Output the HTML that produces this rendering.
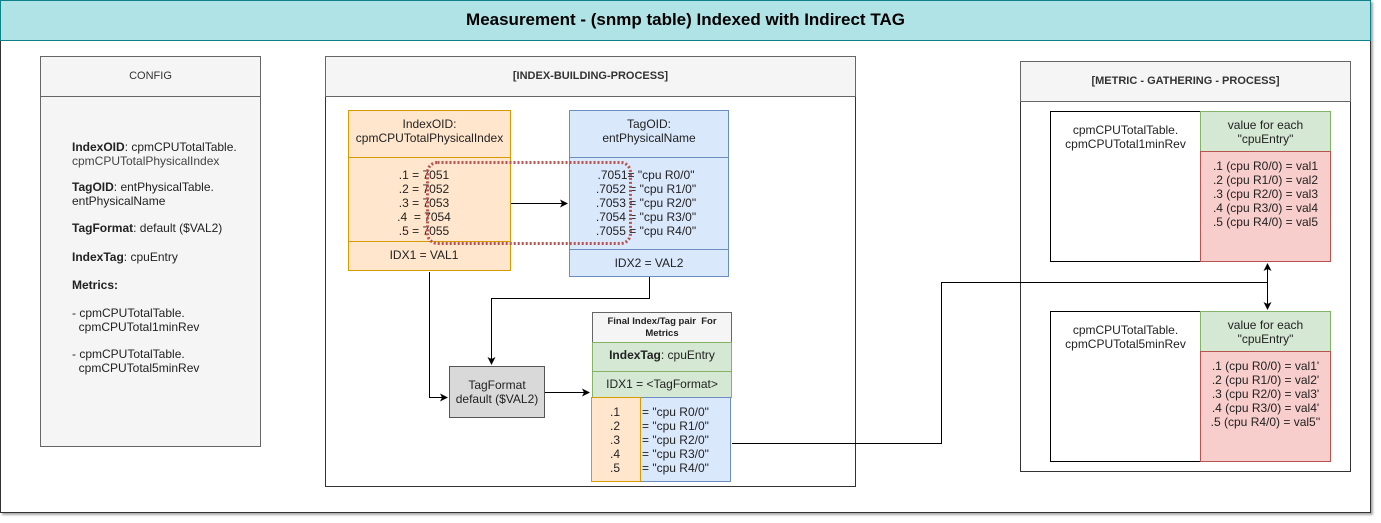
<!DOCTYPE html>
<html><head><meta charset="utf-8"><style>
body{margin:0;width:1381px;height:523px;background:#fff;font-family:"Liberation Sans",sans-serif;font-size:12px;color:#222;position:relative;overflow:hidden}
.b{position:absolute;box-sizing:border-box}
.t{position:absolute;white-space:nowrap;line-height:14px}
.c{text-align:center}
</style></head><body>
<div class="b" style="left:0;top:0;width:1371px;height:513px;border:1px solid #333;box-shadow:2px 2px 2px #aaa"></div>
<div class="b" style="left:0;top:0;width:1371px;height:41px;background:#b0e3e6;border:1px solid #0e8088"></div>
<div class="t c" style="left:0;top:10px;width:1371px;font-size:17px;font-weight:bold;line-height:19px;color:#000">Measurement - (snmp table) Indexed with Indirect TAG</div>

<!-- CONFIG -->
<div class="b" style="left:40px;top:56px;width:221px;height:391px;background:#f5f5f5;border:1px solid #666"></div>
<div class="b" style="left:40px;top:56px;width:221px;height:41px;border:1px solid #666"></div>
<div class="t c" style="left:40px;top:69px;width:221px;color:#333;font-size:11px">CONFIG</div>
<div class="t" style="left:72px;top:140px"><b>IndexOID</b>: cpmCPUTotalTable.<br><span style="color:#444">cpmCPUTotalPhysicalIndex</span></div>
<div class="t" style="left:72px;top:180px"><b>TagOID</b>: entPhysicalTable.<br>entPhysicalName</div>
<div class="t" style="left:72px;top:221px"><b>TagFormat</b>: default ($VAL2)</div>
<div class="t" style="left:72px;top:250px"><b>IndexTag</b>: cpuEntry</div>
<div class="t" style="left:72px;top:278px"><b>Metrics:</b></div>
<div class="t" style="left:72px;top:306px">- cpmCPUTotalTable.<br>&nbsp;&nbsp;cpmCPUTotal1minRev</div>
<div class="t" style="left:72px;top:347px">- cpmCPUTotalTable.<br>&nbsp;&nbsp;cpmCPUTotal5minRev</div>

<!-- INDEX BUILDING -->
<div class="b" style="left:325px;top:56px;width:531px;height:431px;border:1px solid #333"></div>
<div class="b" style="left:325px;top:56px;width:531px;height:41px;background:#f5f5f5;border:1px solid #666"></div>
<div class="t c" style="left:325px;top:69px;width:531px;font-weight:bold;color:#333;font-size:11px">[INDEX-BUILDING-PROCESS]</div>

<div class="b" style="left:348px;top:110px;width:163px;height:161px;background:#ffe6cc;border:1px solid #d79b00"></div>
<div class="b" style="left:348px;top:110px;width:163px;height:48px;border:1px solid #d79b00"></div>
<div class="b" style="left:348px;top:241px;width:163px;height:30px;border:1px solid #d79b00"></div>
<div class="t c" style="left:348px;top:117px;width:163px">IndexOID:<br>cpmCPUTotalPhysicalIndex</div>
<div class="t c" style="left:348px;top:168px;width:152px">.1 = 7051<br>.2 = 7052<br>.3 = 7053<br>.4 &nbsp;= 7054<br>.5 = 7055</div>
<div class="t c" style="left:348px;top:248px;width:152px">IDX1 = VAL1</div>

<div class="b" style="left:569px;top:110px;width:160px;height:167px;background:#dae8fc;border:1px solid #6c8ebf"></div>
<div class="b" style="left:569px;top:110px;width:160px;height:48px;border:1px solid #6c8ebf"></div>
<div class="b" style="left:569px;top:249px;width:160px;height:28px;border:1px solid #6c8ebf"></div>
<div class="t c" style="left:569px;top:117px;width:160px">TagOID:<br>entPhysicalName</div>
<div class="t c" style="left:569px;top:168px;width:154px">.7051= "cpu R0/0"<br>.7052 = "cpu R1/0"<br>.7053 = "cpu R2/0"<br>.7054 = "cpu R3/0"<br>.7055 = "cpu R4/0"</div>
<div class="t c" style="left:569px;top:256px;width:160px">IDX2 = VAL2</div>

<div class="b" style="left:449px;top:366px;width:96px;height:52px;background:#d9d9d9;border:1px solid #555"></div>
<div class="t c" style="left:449px;top:378px;width:96px">TagFormat<br>default ($VAL2)</div>

<div class="b" style="left:592px;top:312px;width:140px;height:31px;background:#f5f5f5;border:1px solid #666"></div>
<div class="t c" style="left:592px;top:316px;width:140px;font-size:9.5px;font-weight:bold;line-height:12px">Final Index/Tag pair &nbsp;For<br>Metrics</div>
<div class="b" style="left:592px;top:342px;width:140px;height:30px;background:#d5e8d4;border:1px solid #82b366"></div>
<div class="t c" style="left:592px;top:348px;width:140px"><b>IndexTag</b>: cpuEntry</div>
<div class="b" style="left:592px;top:371px;width:140px;height:27px;background:#d5e8d4;border:1px solid #82b366"></div>
<div class="t c" style="left:592px;top:377px;width:140px">IDX1 = &lt;TagFormat&gt;</div>
<div class="b" style="left:640px;top:397px;width:91px;height:85px;background:#dae8fc;border:1px solid #6c8ebf"></div>
<div class="b" style="left:591px;top:397px;width:50px;height:85px;background:#ffe6cc;border:1px solid #d79b00"></div>
<div class="t" style="left:610px;top:405px">.1<br>.2<br>.3<br>.4<br>.5</div>
<div class="t" style="left:642px;top:405px">= "cpu R0/0"<br>= "cpu R1/0"<br>= "cpu R2/0"<br>= "cpu R3/0"<br>= "cpu R4/0"</div>

<!-- METRIC -->
<div class="b" style="left:1020px;top:61px;width:331px;height:411px;border:1px solid #333"></div>
<div class="b" style="left:1020px;top:61px;width:331px;height:41px;background:#f5f5f5;border:1px solid #666"></div>
<div class="t c" style="left:1020px;top:74px;width:331px;font-weight:bold;color:#333;font-size:11px">[METRIC - GATHERING - PROCESS]</div>

<div class="b" style="left:1050px;top:111px;width:151px;height:151px;border:1px solid #000"></div>
<div class="t c" style="left:1050px;top:123px;width:151px">cpmCPUTotalTable.<br>cpmCPUTotal1minRev</div>
<div class="b" style="left:1200px;top:111px;width:131px;height:41px;background:#d5e8d4;border:1px solid #82b366"></div>
<div class="t c" style="left:1200px;top:118px;width:131px">value for each<br>"cpuEntry"</div>
<div class="b" style="left:1200px;top:151px;width:131px;height:111px;background:#f8cecc;border:1px solid #b85450"></div>
<div class="t c" style="left:1200px;top:159px;width:131px">.1 (cpu R0/0) = val1<br>.2 (cpu R1/0) = val2<br>.3 (cpu R2/0) = val3<br>.4 (cpu R3/0) = val4<br>.5 (cpu R4/0) = val5</div>

<div class="b" style="left:1050px;top:311px;width:151px;height:151px;border:1px solid #000"></div>
<div class="t c" style="left:1050px;top:323px;width:151px">cpmCPUTotalTable.<br>cpmCPUTotal5minRev</div>
<div class="b" style="left:1200px;top:311px;width:131px;height:41px;background:#d5e8d4;border:1px solid #82b366"></div>
<div class="t c" style="left:1200px;top:318px;width:131px">value for each<br>"cpuEntry"</div>
<div class="b" style="left:1200px;top:351px;width:131px;height:111px;background:#f8cecc;border:1px solid #b85450"></div>
<div class="t c" style="left:1200px;top:359px;width:131px">.1 (cpu R0/0) = val1'<br>.2 (cpu R1/0) = val2'<br>.3 (cpu R2/0) = val3'<br>.4 (cpu R3/0) = val4'<br>.5 (cpu R4/0) = val5''</div>

<svg width="1381" height="523" style="position:absolute;left:0;top:0" fill="none" stroke="#000" stroke-width="1">
<defs><marker id="a" markerWidth="8" markerHeight="8" refX="7" refY="4" orient="auto" markerUnits="userSpaceOnUse"><path d="M0,0 L8,4 L0,8 L2,4 Z" fill="#000" stroke="none"/></marker></defs>
<rect x="427.5" y="162.5" width="203" height="81" rx="10" stroke="#b85450" stroke-width="3" stroke-dasharray="2,2"/>
<path d="M511,203.5 H567" marker-end="url(#a)"/>
<path d="M429.5,272 V397.5 H447" marker-end="url(#a)"/>
<path d="M649.5,277 V298.5 H491.5 V364" marker-end="url(#a)"/>
<path d="M545,392.5 H589" marker-end="url(#a)"/>
<path d="M732,443.5 H941.5 V282.5 H1267.5"/>
<path d="M1267.5,282 V264" marker-end="url(#a)"/>
<path d="M1267.5,282 V309" marker-end="url(#a)"/>
</svg>
</body></html>
